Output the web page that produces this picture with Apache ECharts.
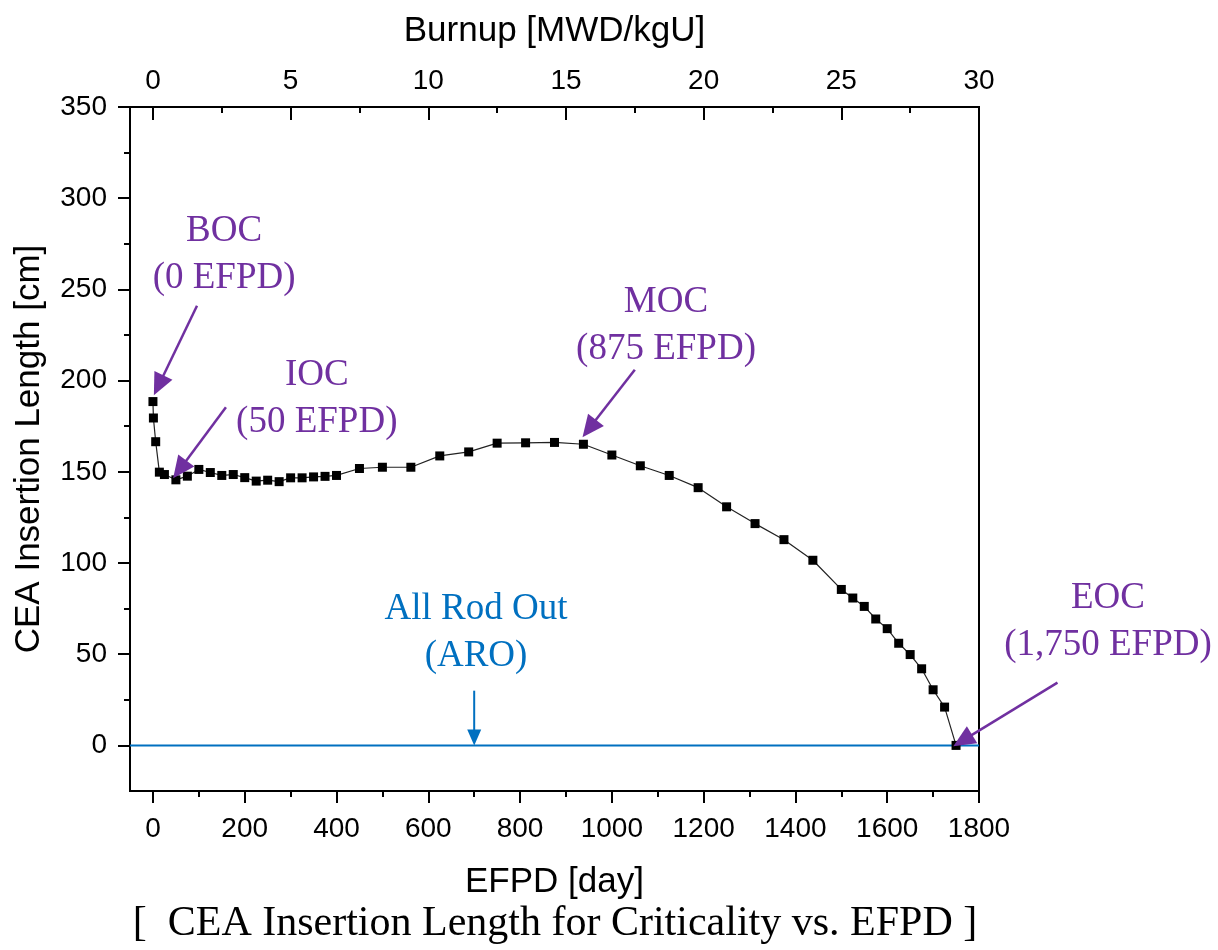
<!DOCTYPE html>
<html>
<head>
<meta charset="utf-8">
<script src="https://cdn.jsdelivr.net/npm/echarts@6/dist/echarts.min.js"></script>
<style>
html,body{margin:0;padding:0;background:#fff;}
#c{width:1218px;height:950px;}
</style>
</head>
<body>
<div id="c"></div>
<script>
// ---- data ----
const efpd = [0, 1, 6, 14, 25, 50, 75, 100, 125, 150, 175, 200, 225, 250, 275, 300, 325, 350, 375, 400, 450, 500, 562, 625, 688, 750, 812, 875, 938, 1000, 1062, 1125, 1188, 1250, 1312, 1375, 1438, 1500, 1525, 1550, 1575, 1600, 1625, 1650, 1675, 1700, 1725, 1750];
const ceaLength = [188.5, 179.5, 166.5, 149.8, 148.5, 145.6, 147.6, 151.3, 149.6, 148, 148.5, 146.8, 144.9, 145.4, 144.6, 146.7, 146.7, 147.2, 147.5, 148, 151.8, 152.5, 152.5, 158.7, 160.9, 165.7, 165.9, 166.1, 165.1, 159.2, 153.3, 148, 141.3, 130.8, 121.6, 112.8, 101.5, 85.5, 80.8, 76.2, 69.3, 64, 56, 49.8, 42, 30.5, 21, 0];
const aroEfpd = [-50, 1800];
const aroValue = [0, 0];
const xTicks = [0, 200, 400, 600, 800, 1000, 1200, 1400, 1600, 1800];
const xMinorTicks = [100, 300, 500, 700, 900, 1100, 1300, 1500, 1700];
const yTicks = [0, 50, 100, 150, 200, 250, 300, 350];
const yMinorTicks = [25, 75, 125, 175, 225, 275, 325];
const burnupTicks = [0, 5, 10, 15, 20, 25, 30];
const burnupMinorTicks = [2.5, 7.5, 12.5, 17.5, 22.5, 27.5];
const daysPerBurnup = 60; // 1800 EFPD = 30 MWD/kgU

// annotations (data coordinates: [EFPD, cm])
const annTexts = ['BOC\n(0 EFPD)', 'IOC\n(50 EFPD)', 'MOC\n(875 EFPD)', 'EOC\n(1,750 EFPD)', 'All Rod Out\n(ARO)'];
const annTextPos = [[155, 269], [357, 190], [1118, 230], [2081, 67.6], [704, 62]];
const annArrowFrom = [[96, 241], [159, 185.4], [1050, 206], [1971, 34.4], [700, 30]];
const annArrowTo = [[2, 192], [44, 146.5], [936, 169], [1744, -0.5], [700, 0]];
const annKind = ['p', 'p', 'p', 'p', 'b'];

const SANS = '"Liberation Sans", Arial, sans-serif';
const SERIF = '"Liberation Serif", "Times New Roman", serif';
const PURPLE = '#7030A0';
const BLUE = '#0070C0';

const chart = echarts.init(document.getElementById('c'), null, {renderer: 'canvas'});

const xMin = -50, xMax = 1800, yMin = -25, yMax = 350;
const plain = v => String(v);

function tickAxisX(opts) {
  return Object.assign({
    type: 'value', min: xMin, max: xMax, position: 'bottom',
    splitLine: {show: false},
    axisLine: {show: false, onZero: false},
  }, opts);
}

const option = {
  animation: false,
  backgroundColor: '#fff',
  grid: {left: 130, top: 107, right: 239, bottom: 159, show: true, borderColor: '#000', borderWidth: 2, backgroundColor: 'transparent'},
  xAxis: [
    tickAxisX({
      axisLine: {show: true, onZero: false, lineStyle: {color: '#000', width: 2}},
      axisTick: {show: true, customValues: xTicks, length: 12, lineStyle: {color: '#000', width: 2}},
      axisLabel: {customValues: xTicks, formatter: plain, color: '#000', fontSize: 28, fontFamily: SANS, margin: 24},
      name: 'EFPD [day]', nameLocation: 'middle', nameGap: 74,
      nameTextStyle: {color: '#000', fontSize: 35, fontFamily: SANS}
    }),
    tickAxisX({
      axisTick: {show: true, customValues: xMinorTicks, length: 6, lineStyle: {color: '#000', width: 2}},
      axisLabel: {show: false}
    }),
    {
      type: 'value', min: xMin / daysPerBurnup, max: xMax / daysPerBurnup, position: 'top',
      splitLine: {show: false},
      axisLine: {show: true, onZero: false, lineStyle: {color: '#000', width: 2}},
      axisTick: {show: true, inside: true, customValues: burnupTicks, length: 13, lineStyle: {color: '#000', width: 2}},
      axisLabel: {customValues: burnupTicks, formatter: plain, color: '#000', fontSize: 28, fontFamily: SANS, margin: 12},
      name: 'Burnup [MWD/kgU]', nameLocation: 'middle', nameGap: 58,
      nameTextStyle: {color: '#000', fontSize: 35, fontFamily: SANS}
    },
    {
      type: 'value', min: xMin / daysPerBurnup, max: xMax / daysPerBurnup, position: 'top',
      splitLine: {show: false},
      axisLine: {show: false, onZero: false},
      axisTick: {show: true, inside: true, customValues: burnupMinorTicks, length: 6, lineStyle: {color: '#000', width: 2}},
      axisLabel: {show: false}
    }
  ],
  yAxis: [
    {
      type: 'value', min: yMin, max: yMax, position: 'left',
      splitLine: {show: false},
      axisLine: {show: true, onZero: false, lineStyle: {color: '#000', width: 2}},
      axisTick: {show: true, customValues: yTicks, length: 12, lineStyle: {color: '#000', width: 2}},
      axisLabel: {customValues: yTicks, formatter: plain, color: '#000', fontSize: 28, fontFamily: SANS, margin: 23},
      name: 'CEA Insertion Length [cm]', nameLocation: 'middle', nameGap: 83, nameRotate: 90,
      nameTextStyle: {color: '#000', fontSize: 35, fontFamily: SANS}
    },
    {
      type: 'value', min: yMin, max: yMax, position: 'left',
      splitLine: {show: false},
      axisLine: {show: false, onZero: false},
      axisTick: {show: true, customValues: yMinorTicks, length: 6, lineStyle: {color: '#000', width: 2}},
      axisLabel: {show: false}
    }
  ],
  series: [
    {
      name: 'ARO', type: 'line', xAxisIndex: 0, yAxisIndex: 0,
      data: aroEfpd.map((x, i) => [x, aroValue[i]]),
      symbol: 'none', lineStyle: {color: BLUE, width: 2}, silent: true, z: 2
    },
    {
      name: 'CEA', type: 'line', xAxisIndex: 0, yAxisIndex: 0,
      data: efpd.map((x, i) => [x, ceaLength[i]]),
      symbol: 'rect', symbolSize: 9, showSymbol: true,
      itemStyle: {color: '#000'},
      lineStyle: {color: '#222', width: 1.2}, silent: true, z: 3, clip: false
    }
  ]
};

chart.setOption(option);

// annotations drawn as graphics placed through the axes
const graphics = [];
for (let i = 0; i < annTexts.length; i++) {
  const color = annKind[i] === 'p' ? PURPLE : BLUE;
  const tp = chart.convertToPixel({xAxisIndex: 0, yAxisIndex: 0}, annTextPos[i]);
  graphics.push({
    type: 'text', x: tp[0], y: tp[1], z: 10,
    style: {text: annTexts[i], fill: color, font: '37px ' + SERIF, textAlign: 'center', textVerticalAlign: 'middle', lineHeight: 47}
  });
  const a = chart.convertToPixel({xAxisIndex: 0, yAxisIndex: 0}, annArrowFrom[i]);
  const b = chart.convertToPixel({xAxisIndex: 0, yAxisIndex: 0}, annArrowTo[i]);
  const dx = b[0] - a[0], dy = b[1] - a[1];
  const len = Math.sqrt(dx * dx + dy * dy);
  const ux = dx / len, uy = dy / len, px = -uy, py = ux;
  const hl = annKind[i] === 'p' ? 22 : 16;
  const hw = annKind[i] === 'p' ? 10 : 7;
  const bx = b[0] - ux * hl, by = b[1] - uy * hl;
  graphics.push({
    type: 'line', z: 10,
    shape: {x1: a[0], y1: a[1], x2: bx + ux * 2, y2: by + uy * 2},
    style: {stroke: color, lineWidth: annKind[i] === 'p' ? 2.5 : 2}
  });
  graphics.push({
    type: 'polygon', z: 10,
    shape: {points: [[b[0], b[1]], [bx + px * hw, by + py * hw], [bx - px * hw, by - py * hw]]},
    style: {fill: color}
  });
}
graphics.push({
  type: 'text', x: 555, y: 924, z: 10,
  style: {text: '[  CEA Insertion Length for Criticality vs. EFPD ]', fill: '#000', font: '42px ' + SERIF, textAlign: 'center', textVerticalAlign: 'middle'}
});
chart.setOption({graphic: graphics});
</script>
</body>
</html>
